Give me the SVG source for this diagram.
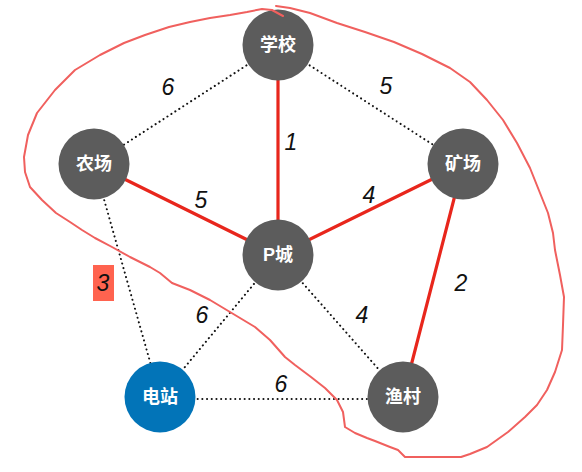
<svg xmlns="http://www.w3.org/2000/svg" width="582" height="472" viewBox="0 0 582 472">
<style>
.node{fill:#5c5c5c}
.blue{fill:#0274b8}
.nl{fill:#ffffff;font-family:"Liberation Sans","Noto Sans CJK SC",sans-serif;font-size:18px;font-weight:bold;text-anchor:middle}
.red{stroke:#e8261c;stroke-width:3.2;fill:none;stroke-linecap:round}
.dot{stroke:#111;stroke-width:2;fill:none;stroke-dasharray:0.1 4.6;stroke-linecap:round}
.el{fill:#111;font-family:"Liberation Sans","Helvetica",sans-serif;font-style:italic;font-size:23px;text-anchor:middle}
.hand{fill:none;stroke:#f0605e;stroke-width:2;stroke-linejoin:round;stroke-linecap:round}
</style>
<rect width="582" height="472" fill="#ffffff"/>
<g id="connectors">
<line class="dot" x1="278" y1="45" x2="94" y2="164"/>
<line class="dot" x1="278" y1="45" x2="463" y2="164"/>
<line class="dot" x1="94" y1="164" x2="160" y2="397"/>
<line class="dot" x1="278" y1="255" x2="160" y2="397"/>
<line class="dot" x1="278" y1="255" x2="403" y2="397"/>
<line class="dot" x1="160" y1="399" x2="403" y2="399"/>
<line class="red" x1="278" y1="45" x2="278" y2="255"/>
<line class="red" x1="94" y1="164" x2="278" y2="255"/>
<line class="red" x1="463" y1="164" x2="278" y2="255"/>
<line class="red" x1="463" y1="164" x2="403" y2="397"/>
</g>
<g id="edge-labels">
<text class="el" x="168" y="95">6</text>
<text class="el" x="386" y="94">5</text>
<text class="el" x="291" y="150">1</text>
<text class="el" x="201" y="208">5</text>
<text class="el" x="369" y="203">4</text>
<text class="el" x="461" y="291">2</text>
<text class="el" x="362" y="323">4</text>
<text class="el" x="202" y="323">6</text>
<text class="el" x="281" y="392">6</text>
<rect x="93" y="265" width="21" height="36" fill="#ff634f"/>
<text class="el" x="103" y="291">3</text>
</g>
<g id="node-school"><circle class="node" cx="278" cy="45" r="35.5"/><text class="nl" x="278" y="51">学校</text></g>
<g id="node-farm"><circle class="node" cx="94" cy="164" r="35.5"/><text class="nl" x="94" y="170">农场</text></g>
<g id="node-mine"><circle class="node" cx="463" cy="164" r="35.5"/><text class="nl" x="463" y="170">矿场</text></g>
<g id="node-pcity"><circle class="node" cx="278" cy="255" r="35.5"/><text class="nl" x="278" y="261">P城</text></g>
<g id="node-power"><circle class="blue" cx="160" cy="397" r="35.5"/><text class="nl" x="160" y="403">电站</text></g>
<g id="node-fish"><circle class="node" cx="403" cy="397" r="35.5"/><text class="nl" x="403" y="403">渔村</text></g>
<path class="hand" d="M276,6 L290,8 L310,13 L337,23 L365,32 L394,42 L422,54 L450,68 L470,82 L487,100 L503,120 L517,143 L530,168 L540,193 L548,213 L553,233 L555,250 L560,275 L564,297 L563,325 L562,350 L555,372 L547,390 L537,405 L525,417 L508,432 L487,447 L470,454 L461,457 L430,457 L405,457 L398,450 L390,447 L375,441 L367,438 L355,433 L345,427 L343,412 L337,400 L325,388 L311,377 L295,365 L285,357 L270,340 L255,327 L235,315 L210,300 L190,290 L172,283 L160,273 L150,267 L130,257 L112,247 L95,238 L82,230 L70,222 L56,213 L42,200 L30,187 L25,172 L24,157 L28,135 L37,113 L55,90 L75,70 L100,55 L124,43 L145,35 L169,27 L190,22 L210,18 L230,15 L247,12 L262,9 L272,10 L283,16"/>
</svg>
